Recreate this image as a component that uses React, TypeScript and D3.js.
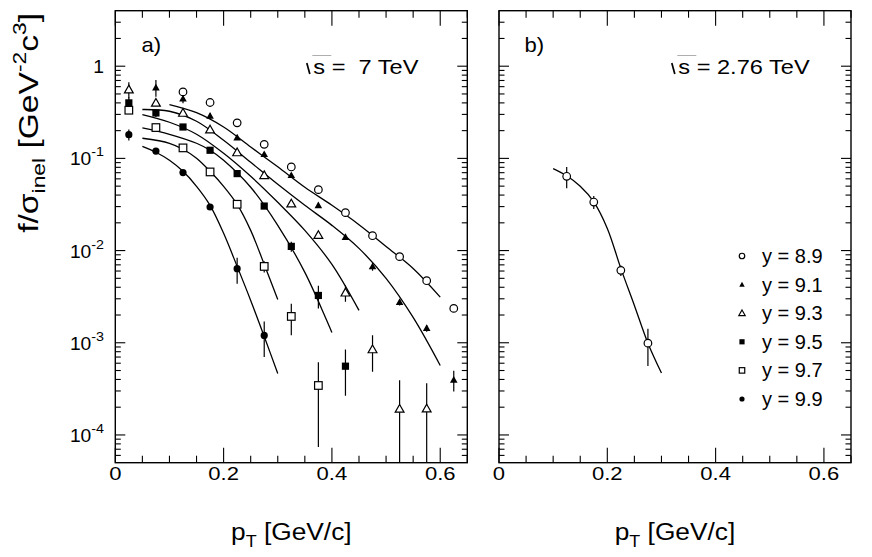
import React from "react";
import * as d3 from "d3";

const FONT = "'Liberation Sans', Arial, Helvetica, sans-serif";

// ---- panel a): sqrt(s) = 7 TeV, measured points ----
const ptY89 = [0.125, 0.175, 0.225, 0.275, 0.325, 0.375, 0.425, 0.475, 0.525, 0.575, 0.625];
const valY89 = [0.526, 0.404, 0.243, 0.142, 0.0807, 0.0458, 0.0258, 0.0145, 0.00859, 0.00471, 0.00236];
const errY89 = [0.04, 0.02, 0.01, 0.006, 0.003, 0.002, 0.001, 0.0008, 0.0004, 0.0002, 0.0002];

const ptY91 = [0.075, 0.125, 0.175, 0.225, 0.275, 0.325, 0.375, 0.425, 0.475, 0.525, 0.575, 0.625];
const valY91 = [0.587, 0.446, 0.289, 0.168, 0.111, 0.0656, 0.031, 0.014, 0.00673, 0.00276, 0.00144, 0.000396];
const errY91 = [0.12, 0.05, 0.02, 0.01, 0.006, 0.004, 0.002, 0.001, 0.0007, 0.00022, 0.00012, 0.0001];

const ptY93 = [0.025, 0.075, 0.125, 0.175, 0.225, 0.275, 0.325, 0.375, 0.425, 0.475, 0.525, 0.575];
const valY93 = [0.558, 0.4, 0.311, 0.205, 0.116, 0.0656, 0.0323, 0.0147, 0.00349, 0.000846, 0.000192, 0.000193];
const errY93 = [0.11, 0.03, 0.02, 0.01, 0.006, 0.004, 0.002, 0.001, 0.0007, 0.00036, 0.0002, 0.00017];

const ptY95 = [0.025, 0.075, 0.125, 0.175, 0.225, 0.275, 0.325, 0.375, 0.425];
const valY95 = [0.4, 0.311, 0.219, 0.1225, 0.0684, 0.0304, 0.0111, 0.00326, 0.000557];
const errY95 = [0.06, 0.03, 0.01, 0.006, 0.004, 0.002, 0.0014, 0.0009, 0.00029];

const ptY97 = [0.025, 0.075, 0.125, 0.175, 0.225, 0.275, 0.325, 0.375];
const valY97 = [0.333, 0.216, 0.13, 0.0713, 0.0318, 0.00673, 0.00193, 0.000344];
const errY97 = [0.017, 0.01, 0.006, 0.003, 0.002, 0.00095, 0.00072, 0.00027];

const ptY99 = [0.025, 0.075, 0.125, 0.175, 0.225, 0.275];
const valY99 = [0.181, 0.12, 0.0701, 0.0297, 0.00636, 0.0012];
const errY99 = [0.025, 0.006, 0.003, 0.0015, 0.002, 0.0005];

// ---- panel a): model curves ----
const fitPt89 = [0.1, 0.15, 0.2, 0.25, 0.3, 0.35, 0.4, 0.45, 0.5, 0.55, 0.6];
const fit89 = [0.384, 0.313, 0.219, 0.133, 0.081, 0.0486, 0.031, 0.0191, 0.0111, 0.0064, 0.00313];
const fitPt91 = [0.05, 0.1, 0.15, 0.2, 0.25, 0.3, 0.35, 0.4, 0.45, 0.5, 0.55, 0.6];
const fit91 = [0.339, 0.3246, 0.2528, 0.1572, 0.0907, 0.0523, 0.03095, 0.01877, 0.01057, 0.00499, 0.001882, 0.000567];
const fitPt93 = [0.05, 0.1, 0.15, 0.2, 0.25, 0.3, 0.35, 0.4, 0.45];
const fit93 = [0.299, 0.2466, 0.1827, 0.1136, 0.0639, 0.03337, 0.01657, 0.00708, 0.002243];
const fitPt95 = [0.05, 0.1, 0.15, 0.175, 0.2, 0.25, 0.3, 0.35, 0.4];
const fit95 = [0.214, 0.1827, 0.1459, 0.1224, 0.0954, 0.0486, 0.01877, 0.0058, 0.001293];
const fitPt97 = [0.05, 0.1, 0.125, 0.15, 0.175, 0.2, 0.225, 0.25, 0.275, 0.3];
const fit97 = [0.1653, 0.1459, 0.1256, 0.1003, 0.0724, 0.0498, 0.03173, 0.01657, 0.00708, 0.002953];
const fitPt99 = [0.05, 0.075, 0.1, 0.125, 0.15, 0.175, 0.2, 0.225, 0.25, 0.275, 0.3];
const fit99 = [0.1353, 0.1165, 0.0954, 0.0724, 0.0498, 0.03095, 0.01538, 0.00674, 0.00288, 0.00117, 0.000464];

// ---- panel b): sqrt(s) = 2.76 TeV ----
const ptB = [0.125, 0.175, 0.225, 0.275];
const valB = [0.0639, 0.0336, 0.0061, 0.00099];
const errB = [0.0166, 0.0054, 0.0008, 0.00043];
const fitPtB = [0.1, 0.125, 0.15, 0.175, 0.2, 0.225, 0.25, 0.275, 0.3];
const fitB = [0.0775, 0.0648, 0.0498, 0.0338, 0.0174, 0.00641, 0.00254, 0.00099, 0.00047];

const legendLabels = ["y = 8.9", "y = 9.1", "y = 9.3", "y = 9.5", "y = 9.7", "y = 9.9"];
const markerKinds = ["openCircle", "fullTriangle", "openTriangle", "fullSquare", "openSquare", "fullCircle"];
const xTickLabels = ["0", "0.2", "0.4", "0.6"];
const yDecades = [0, -1, -2, -3, -4];

const seriesA = [
  { pt: ptY89, val: valY89, err: errY89, fitPt: fitPt89, fit: fit89 },
  { pt: ptY91, val: valY91, err: errY91, fitPt: fitPt91, fit: fit91 },
  { pt: ptY93, val: valY93, err: errY93, fitPt: fitPt93, fit: fit93 },
  { pt: ptY95, val: valY95, err: errY95, fitPt: fitPt95, fit: fit95 },
  { pt: ptY97, val: valY97, err: errY97, fitPt: fitPt97, fit: fit97 },
  { pt: ptY99, val: valY99, err: errY99, fitPt: fitPt99, fit: fit99 },
];

const W = 872;
const H = 557;
const top = 10.7;
const bottom = 462.7;
const panels = [
  { left: 115.3, right: 467.3 },
  { left: 499, right: 851 },
];

const y = d3.scaleLog().domain([5e-5, 4]).range([bottom, top]);

function Marker({ kind, cx, cy, s = 1 }: { kind: string; cx: number; cy: number; s?: number }) {
  const sw = 1.2;
  switch (kind) {
    case "openCircle":
      return <circle cx={cx} cy={cy} r={3.8 * s} fill="white" stroke="black" strokeWidth={sw} />;
    case "fullCircle":
      return <circle cx={cx} cy={cy} r={3.6 * s} fill="black" />;
    case "openSquare": {
      const h = 3.8 * s;
      return <rect x={cx - h} y={cy - h} width={2 * h} height={2 * h} fill="white" stroke="black" strokeWidth={sw} />;
    }
    case "fullSquare": {
      const h = 3.6 * s;
      return <rect x={cx - h} y={cy - h} width={2 * h} height={2 * h} fill="black" />;
    }
    case "openTriangle": {
      const h = 4.4 * s;
      return (
        <path
          d={`M${cx},${cy - h}L${cx + h},${cy + h * 0.75}L${cx - h},${cy + h * 0.75}Z`}
          fill="white"
          stroke="black"
          strokeWidth={sw}
        />
      );
    }
    default: {
      const h = 3.8 * s;
      return <path d={`M${cx},${cy - h}L${cx + h},${cy + h * 0.75}L${cx - h},${cy + h * 0.75}Z`} fill="black" />;
    }
  }
}

function Txt({ x, yy, sx = 1, anchor = "start", size, children }: any) {
  return (
    <g transform={`translate(${x},${yy}) scale(${sx},1)`}>
      <text textAnchor={anchor} fontSize={size} fontFamily={FONT} fill="black" style={{ whiteSpace: "pre" }}>
        {children}
      </text>
    </g>
  );
}

function Frame({ left, right, showY }: { left: number; right: number; showY: boolean }) {
  const x = d3.scaleLinear().domain([0, 0.65]).range([left, right]);
  const xTicks = d3.range(0, 0.651, 0.05);
  const yMinor: number[] = [];
  for (let d = -5; d <= 0; d++) {
    for (let k = 2; k <= 9; k++) {
      const v = k * Math.pow(10, d);
      if (v > 5e-5 && v < 4) yMinor.push(v);
    }
  }
  return (
    <g>
      {xTicks.map((t, i) => {
        const major = Math.abs(t / 0.2 - Math.round(t / 0.2)) < 1e-6;
        const len = major ? 15 : 7;
        return (
          <g key={i} stroke="black" strokeWidth={1.1}>
            <line x1={x(t)} x2={x(t)} y1={bottom} y2={bottom - len} />
            <line x1={x(t)} x2={x(t)} y1={top} y2={top + len} />
          </g>
        );
      })}
      {yDecades.map((d) => (
        <g key={d} stroke="black" strokeWidth={1.1}>
          <line x1={left} x2={left + 10} y1={y(Math.pow(10, d))} y2={y(Math.pow(10, d))} />
          <line x1={right} x2={right - 10} y1={y(Math.pow(10, d))} y2={y(Math.pow(10, d))} />
        </g>
      ))}
      {yMinor.map((v, i) => (
        <g key={i} stroke="black" strokeWidth={1.1}>
          <line x1={left} x2={left + 5.5} y1={y(v)} y2={y(v)} />
          <line x1={right} x2={right - 5.5} y1={y(v)} y2={y(v)} />
        </g>
      ))}
      <rect x={left} y={top} width={right - left} height={bottom - top} fill="none" stroke="black" strokeWidth={1.4} />
      {xTickLabels.map((l) => (
        <Txt key={l} x={x(+l)} yy={480} sx={1.26} anchor="middle" size={17.5}>
          {l}
        </Txt>
      ))}
      {showY &&
        yDecades.map((d) => (
          <g key={d} transform={`translate(104,${y(Math.pow(10, d)) + 7}) scale(1.1,1)`}>
            <text textAnchor="end" fontSize={17.5} fontFamily={FONT}>
              {d === 0 ? (
                "1"
              ) : (
                <>
                  10
                  <tspan fontSize={13} dy={-9}>
                    {String(d)}
                  </tspan>
                </>
              )}
            </text>
          </g>
        ))}
      <g transform={`translate(${(left + right) / 2},540) scale(1.12,1)`}>
        <text textAnchor="middle" fontSize={23.5} fontFamily={FONT}>
          p
          <tspan fontSize={16} dy={7}>
            T
          </tspan>
          <tspan dy={-7}> [GeV/c]</tspan>
        </text>
      </g>
    </g>
  );
}

function Sqrt({ sx, baseline, rest }: { sx: number; baseline: number; rest: string }) {
  return (
    <g>
      <path d={`M${sx - 6.5},${baseline - 11}L${sx - 3.5},${baseline}`} stroke="black" strokeWidth={1.7} fill="none" />
      <line x1={sx - 1} x2={sx + 18} y1={baseline - 18.5} y2={baseline - 18.5} stroke="#999" strokeWidth={0.8} />
      <Txt x={sx} yy={baseline} sx={1.18} size={20}>
        {rest}
      </Txt>
    </g>
  );
}

export default function App() {
  const xa = d3.scaleLinear().domain([0, 0.65]).range([panels[0].left, panels[0].right]);
  const xb = d3.scaleLinear().domain([0, 0.65]).range([panels[1].left, panels[1].right]);
  const lineA = d3
    .line<[number, number]>()
    .x((d) => xa(d[0]))
    .y((d) => y(d[1]))
    .curve(d3.curveCatmullRom.alpha(0.5));
  const lineB = d3
    .line<[number, number]>()
    .x((d) => xb(d[0]))
    .y((d) => y(d[1]))
    .curve(d3.curveCatmullRom.alpha(0.5));
  const yLow = (v: number, e: number) => y(Math.max(v - e, 5e-5));

  return (
    <svg width={W} height={H} style={{ position: "fixed", left: 0, top: 0, background: "white" }}>
      <rect width={W} height={H} fill="white" />
      <defs>
        <clipPath id="clipA">
          <rect x={panels[0].left} y={top} width={panels[0].right - panels[0].left} height={bottom - top} />
        </clipPath>
        <clipPath id="clipB">
          <rect x={panels[1].left} y={top} width={panels[1].right - panels[1].left} height={bottom - top} />
        </clipPath>
      </defs>

      {/* panel a */}
      <g clipPath="url(#clipA)">
        {seriesA.map((s, i) => (
          <path
            key={"f" + i}
            d={lineA(s.fitPt.map((p, j) => [p, s.fit[j]] as [number, number])) || ""}
            fill="none"
            stroke="black"
            strokeWidth={1.3}
          />
        ))}
        {seriesA.map((s, i) =>
          s.pt.map((p, j) => (
            <line
              key={`e${i}-${j}`}
              x1={xa(p)}
              x2={xa(p)}
              y1={y(s.val[j] + s.err[j])}
              y2={yLow(s.val[j], s.err[j])}
              stroke="black"
              strokeWidth={1.2}
            />
          ))
        )}
        {seriesA.map((s, i) =>
          s.pt.map((p, j) => <Marker key={`m${i}-${j}`} kind={markerKinds[i]} cx={xa(p)} cy={y(s.val[j])} />)
        )}
      </g>

      {/* panel b */}
      <g clipPath="url(#clipB)">
        <path
          d={lineB(fitPtB.map((p, j) => [p, fitB[j]] as [number, number])) || ""}
          fill="none"
          stroke="black"
          strokeWidth={1.3}
        />
        {ptB.map((p, j) => (
          <line
            key={"eb" + j}
            x1={xb(p)}
            x2={xb(p)}
            y1={y(valB[j] + errB[j])}
            y2={yLow(valB[j], errB[j])}
            stroke="black"
            strokeWidth={1.2}
          />
        ))}
        {ptB.map((p, j) => (
          <Marker key={"mb" + j} kind="openCircle" cx={xb(p)} cy={y(valB[j])} />
        ))}
      </g>

      <Frame left={panels[0].left} right={panels[0].right} showY={true} />
      <Frame left={panels[1].left} right={panels[1].right} showY={false} />

      <Txt x={141.5} yy={52} sx={1.05} size={21}>
        a)
      </Txt>
      <Txt x={524.5} yy={52} sx={1.05} size={21}>
        b)
      </Txt>
      <Sqrt sx={313.3} baseline={74} rest="s =  7 TeV" />
      <Sqrt sx={678.3} baseline={74} rest="s = 2.76 TeV" />

      {/* legend */}
      {legendLabels.map((l, i) => {
        const cy = 256 + i * 28.6;
        return (
          <g key={l}>
            <Marker kind={markerKinds[i]} cx={742} cy={cy} s={0.72} />
            <text x={762} y={cy + 7} fontSize={20} fontFamily={FONT}>
              {l}
            </text>
          </g>
        );
      })}

      {/* y axis title */}
      <g transform="translate(38,13) rotate(-90) scale(1.2,1)">
        <text textAnchor="end" fontSize={28} fontFamily={FONT}>
          f/σ
          <tspan fontSize={19} dy={7}>
            inel
          </tspan>
          <tspan dy={-7}> [GeV</tspan>
          <tspan fontSize={19} dy={-12}>
            -2
          </tspan>
          <tspan dy={12}>c</tspan>
          <tspan fontSize={19} dy={-12}>
            3
          </tspan>
          <tspan dy={12}>]</tspan>
        </text>
      </g>
    </svg>
  );
}
